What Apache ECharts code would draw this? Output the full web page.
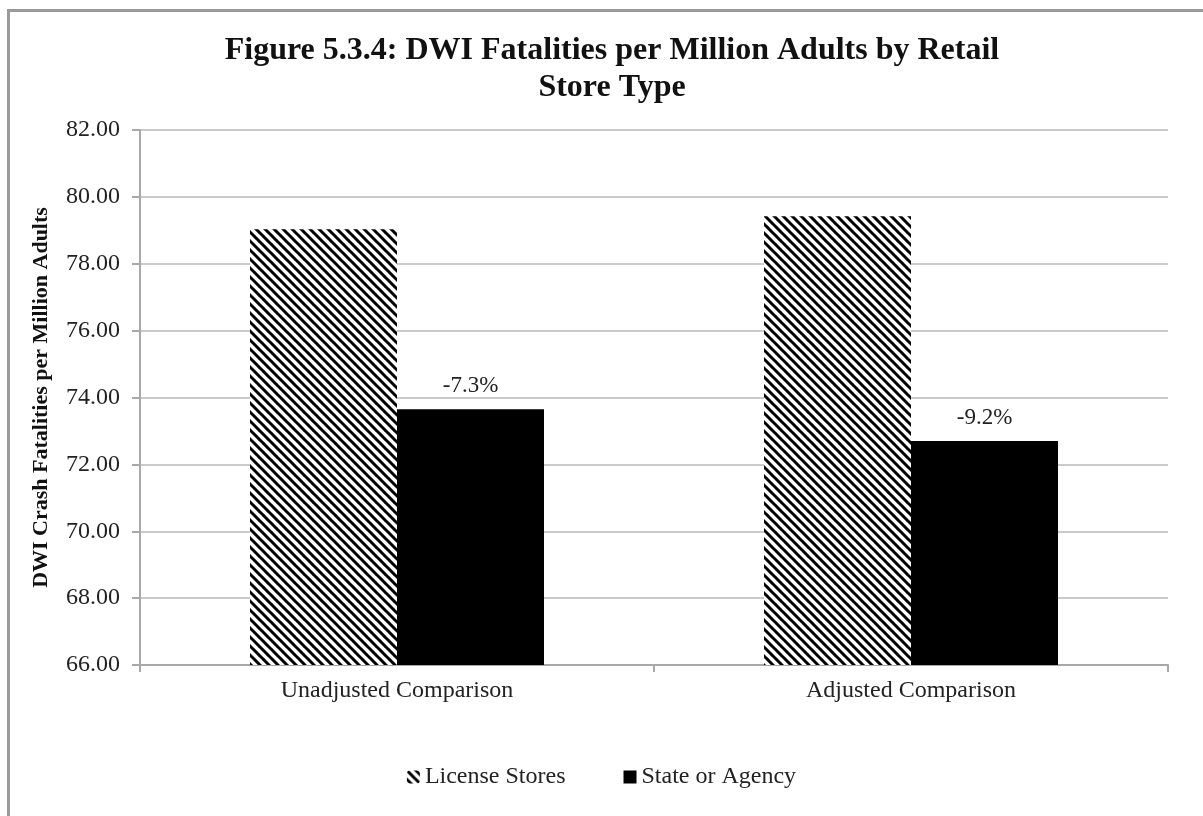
<!DOCTYPE html>
<html>
<head>
<meta charset="utf-8">
<script src="https://cdn.jsdelivr.net/npm/echarts@6/dist/echarts.min.js"></script>
<style>
html,body{margin:0;padding:0;background:#fff;}
#chart{width:1203px;height:816px;}
</style>
</head>
<body>
<div id="chart"></div>
<script>
const categories = ['Unadjusted Comparison', 'Adjusted Comparison'];
const licenseStores = [79.03, 79.42];
const stateOrAgency = [73.65, 72.70];
const pctLabels = ['-7.3%', '-9.2%'];
const yTicks = { min: 66, max: 82, interval: 2 };
const seriesNames = ['License Stores', 'State or Agency'];
const titleText = 'Figure 5.3.4: DWI Fatalities per Million Adults by Retail\nStore Type';
const yAxisName = 'DWI Crash Fatalities per Million Adults';

function hatch() {
  const s = 9;
  const c = document.createElement('canvas');
  c.width = s; c.height = s;
  const g = c.getContext('2d');
  g.fillStyle = '#fff';
  g.fillRect(0, 0, s, s);
  g.strokeStyle = '#000';
  g.lineWidth = 3;
  g.beginPath();
  for (let k = -1; k <= 1; k++) {
    g.moveTo(k * s - 1, -1);
    g.lineTo(k * s + s + 1, s + 1);
  }
  g.stroke();
  return c;
}

const FONT = '"Liberation Serif", "Times New Roman", serif';
const chart = echarts.init(document.getElementById('chart'), null, { renderer: 'canvas' });
chart.setOption({
  backgroundColor: '#fff',
  animation: false,
  graphic: [{
    type: 'rect',
    shape: { x: 8.5, y: 10.5, width: 1220, height: 840 },
    style: { fill: 'none', stroke: '#9a9a9a', lineWidth: 3 },
    silent: true
  }],
  title: {
    text: titleText,
    left: 607, top: 27, textAlign: 'center',
    textStyle: { fontFamily: FONT, fontWeight: 'bold', fontSize: 32, lineHeight: 37, color: '#111' }
  },
  grid: { left: 140, right: 35, top: 130, bottom: 151, containLabel: false },
  legend: {
    bottom: 22, left: 'center', itemGap: 58, itemWidth: 13, itemHeight: 13,
    textStyle: { fontFamily: FONT, fontSize: 24, color: '#222' },
    data: [{ name: seriesNames[0] }, { name: seriesNames[1], icon: 'rect' }]
  },
  xAxis: {
    type: 'category', data: categories,
    axisLine: { lineStyle: { color: '#a8a8a8', width: 2 } },
    axisTick: { show: true, length: 7, lineStyle: { color: '#a8a8a8', width: 2 } },
    axisLabel: { fontFamily: FONT, fontSize: 24, color: '#222', margin: 14 }
  },
  yAxis: {
    type: 'value', min: yTicks.min, max: yTicks.max, interval: yTicks.interval,
    name: yAxisName, nameLocation: 'middle', nameGap: 88, nameRotate: 90,
    nameTextStyle: { fontFamily: FONT, fontWeight: 'bold', fontSize: 22, color: '#111' },
    axisLine: { show: true, lineStyle: { color: '#a8a8a8', width: 2 } },
    axisTick: { show: true, length: 8, lineStyle: { color: '#a8a8a8', width: 2 } },
    splitLine: { lineStyle: { color: '#b8b8b8', width: 1.5 } },
    axisLabel: { fontFamily: FONT, fontSize: 24, color: '#222', margin: 20, formatter: v => v.toFixed(2) }
  },
  series: [
    {
      name: seriesNames[0], type: 'bar', data: licenseStores,
      barWidth: 147, barGap: '0%',
      itemStyle: { color: { image: hatch(), repeat: 'repeat' } }
    },
    {
      name: seriesNames[1], type: 'bar', data: stateOrAgency,
      barWidth: 147, barGap: '0%',
      itemStyle: { color: '#000' },
      label: {
        show: true, position: 'top', distance: 12,
        fontFamily: FONT, fontSize: 23, color: '#222',
        formatter: p => pctLabels[p.dataIndex]
      }
    }
  ]
});
</script>
</body>
</html>
